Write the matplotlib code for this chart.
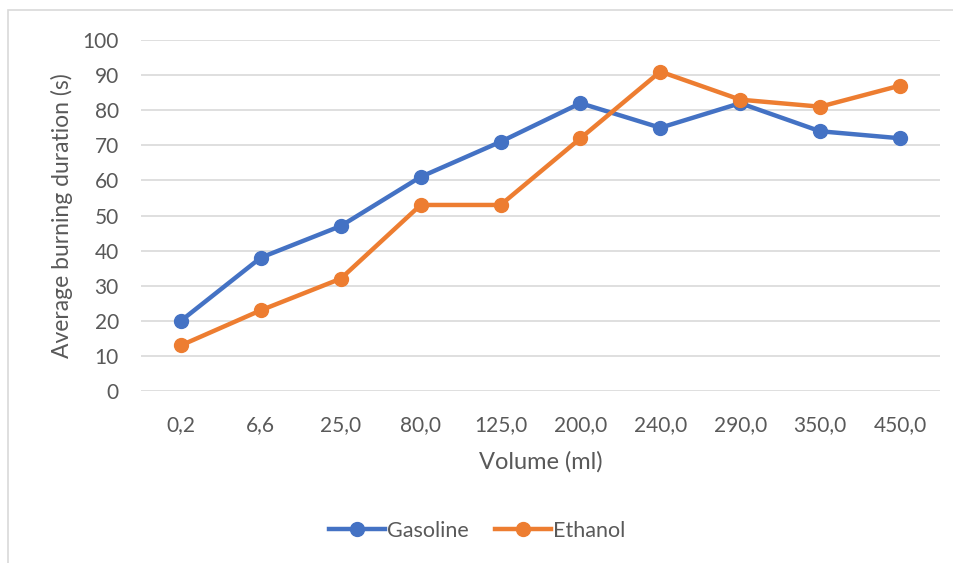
import matplotlib
matplotlib.use("Agg")
import matplotlib.pyplot as plt
from matplotlib.patches import Rectangle

categories = ["0,2", "6,6", "25,0", "80,0", "125,0", "200,0", "240,0", "290,0", "350,0", "450,0"]
gasoline = [20, 38, 47, 61, 71, 82, 75, 82, 74, 72]
ethanol = [13, 23, 32, 53, 53, 72, 91, 83, 81, 87]
yticks = [0, 10, 20, 30, 40, 50, 60, 70, 80, 90, 100]

plt.rcParams['font.family'] = ['Lato', 'DejaVu Sans']
txt = '#595959'

fig = plt.figure(figsize=(9.54, 5.63), dpi=100)
fig.patches.append(Rectangle((8/954, -0.2), 2, 1 - 10/563 + 0.2, transform=fig.transFigure,
                             fill=False, edgecolor='#d9d9d9', linewidth=1.2))
ax = fig.add_axes([141/954, 1 - 391/563, 799/954, 351/563])

x = list(range(len(categories)))
ax.plot(x, gasoline, color='#4472C4', lw=3.2, marker='o', ms=10, label='Gasoline', zorder=3)
ax.plot(x, ethanol, color='#ED7D31', lw=3.2, marker='o', ms=10, label='Ethanol', zorder=3)

ax.set_xlim(-0.5, len(categories) - 0.5)
ax.set_ylim(0, 100)
ax.set_yticks(yticks)
ax.set_xticks(x)
ax.set_xticklabels(categories)
ax.grid(axis='y', color='#d9d9d9', lw=1.2)
ax.set_axisbelow(True)
for s in ax.spines.values():
    s.set_visible(False)
ax.tick_params(length=0, labelsize=15, colors=txt)
ax.tick_params(axis='y', pad=16)
ax.tick_params(axis='x', pad=17)
ax.set_xlabel('Volume (ml)', fontsize=17, color=txt, labelpad=12)
ax.set_ylabel('Average burning duration (s)', fontsize=16.5, color=txt, labelpad=7)

fig.legend(loc='center', bbox_to_anchor=(0.5, 1 - 531/563), ncol=2, frameon=False,
           fontsize=15.5, labelcolor=txt, handlelength=2.6, handletextpad=0.1, columnspacing=1.2)

fig.savefig('out.png', dpi=100)
